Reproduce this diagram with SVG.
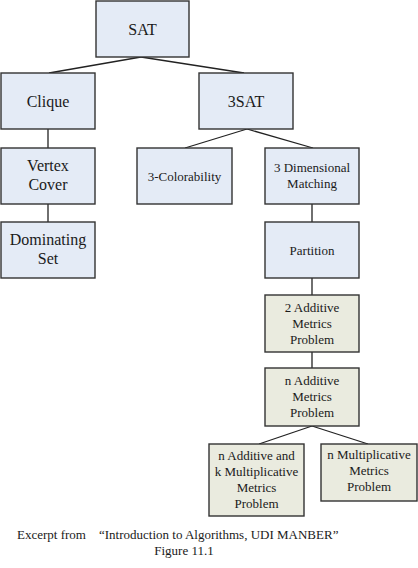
<svg xmlns="http://www.w3.org/2000/svg" width="418" height="568" viewBox="0 0 418 568" font-family="'Liberation Serif', Tinos, 'Times New Roman', 'DejaVu Serif', serif">
<style>
.bl{fill:#E4EBF6;stroke:#333;stroke-width:1.4}
.gr{fill:#EAEBDF;stroke:#333;stroke-width:1.4}
text{fill:#1a1a1a;text-anchor:middle}
.b{font-size:16px}
.s{font-size:13px}
.c{font-size:13px;text-anchor:start}
#connectors line{stroke:#222;stroke-width:1.3}
</style>
<rect width="418" height="568" fill="#fff"/>
<g id="connectors">
<line x1="141" y1="57" x2="49" y2="73"/>
<line x1="141" y1="57" x2="244" y2="73"/>
<line x1="48" y1="129" x2="48" y2="148"/>
<line x1="48" y1="204" x2="48" y2="222"/>
<line x1="247" y1="129" x2="185" y2="148"/>
<line x1="247" y1="129" x2="313" y2="148"/>
<line x1="312" y1="204" x2="312" y2="222"/>
<line x1="312" y1="278" x2="312" y2="295"/>
<line x1="312" y1="352" x2="312" y2="368"/>
<line x1="312" y1="426" x2="259" y2="444"/>
<line x1="312" y1="426" x2="368" y2="444"/>
</g>
<g id="sat"><rect class="bl" x="96" y="1" width="93" height="56"/><text class="b" x="142.5" y="34.5">SAT</text></g>
<g id="clique"><rect class="bl" x="1" y="73" width="94" height="56"/><text class="b" x="48" y="106.5">Clique</text></g>
<g id="vertexcover"><rect class="bl" x="1" y="148" width="94" height="56"/><text class="b" x="48" y="171">Vertex</text><text class="b" x="48" y="190">Cover</text></g>
<g id="dominatingset"><rect class="bl" x="1" y="222" width="94" height="56"/><text class="b" x="48" y="245">Dominating</text><text class="b" x="48" y="264">Set</text></g>
<g id="threesat"><rect class="bl" x="199" y="73" width="94" height="56"/><text class="b" x="246" y="106.5">3SAT</text></g>
<g id="colorability"><rect class="bl" x="137" y="148" width="95" height="56"/><text class="s" x="184.5" y="180.5">3-Colorability</text></g>
<g id="matching"><rect class="bl" x="265" y="148" width="94" height="56"/><text class="s" x="312" y="172">3 Dimensional</text><text class="s" x="312" y="188">Matching</text></g>
<g id="partition"><rect class="bl" x="265" y="222" width="94" height="56"/><text class="s" x="312" y="254.5">Partition</text></g>
<g id="twoadditive"><rect class="gr" x="265" y="295" width="94" height="57"/><text class="s" x="312" y="312">2 Additive</text><text class="s" x="312" y="328">Metrics</text><text class="s" x="312" y="344">Problem</text></g>
<g id="nadditive"><rect class="gr" x="265" y="368" width="94" height="58"/><text class="s" x="312" y="385">n Additive</text><text class="s" x="312" y="401">Metrics</text><text class="s" x="312" y="417">Problem</text></g>
<g id="nadditivekmult"><rect class="gr" x="209" y="444" width="95" height="72"/><text class="s" x="256.5" y="460">n Additive and</text><text class="s" x="256.5" y="476">k Multiplicative</text><text class="s" x="256.5" y="492">Metrics</text><text class="s" x="256.5" y="508">Problem</text></g>
<g id="nmult"><rect class="gr" x="321" y="444" width="96" height="57"/><text class="s" x="369" y="459">n Multiplicative</text><text class="s" x="369" y="475">Metrics</text><text class="s" x="369" y="491">Problem</text></g>
<g id="caption">
<text class="c" x="17" y="539">Excerpt from<tspan x="99">“Introduction to Algorithms, UDI MANBER”</tspan></text>
<text class="s" x="184" y="555">Figure 11.1</text>
</g>
</svg>
